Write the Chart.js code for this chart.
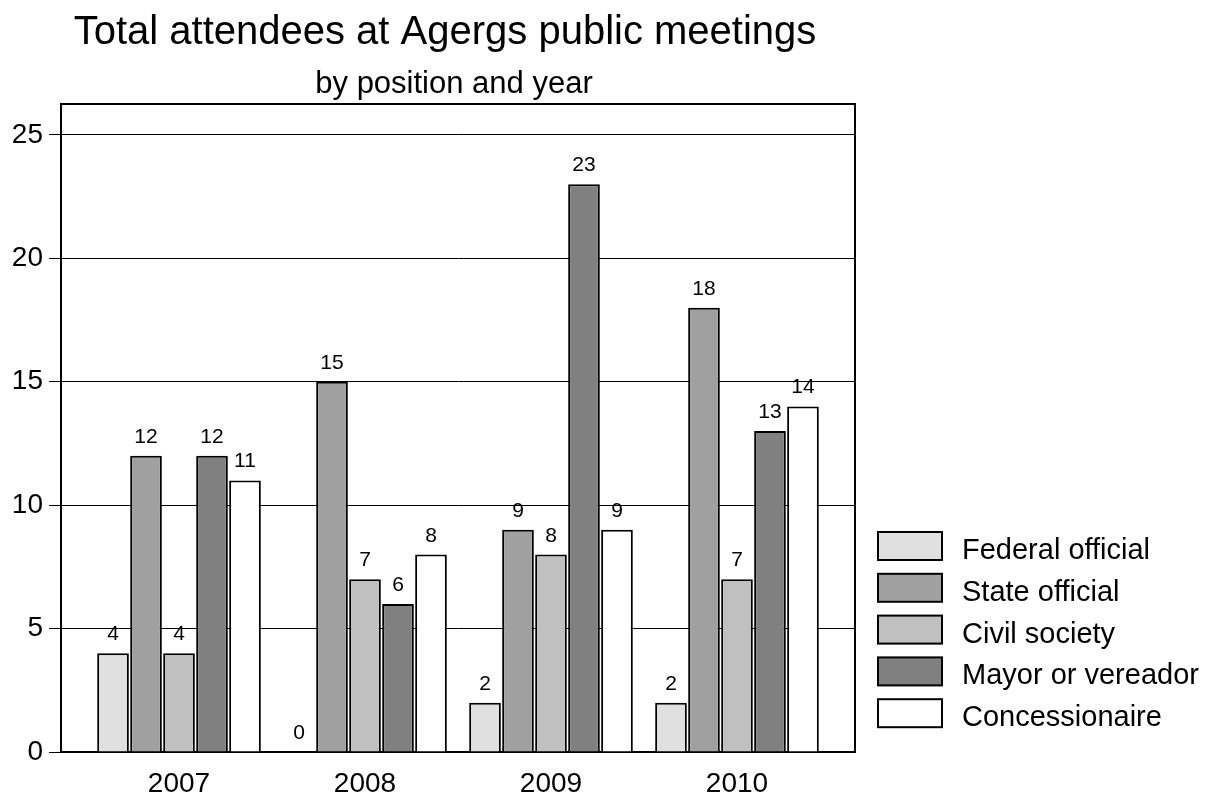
<!DOCTYPE html>
<html>
<head>
<meta charset="utf-8">
<script src="https://cdn.jsdelivr.net/npm/chart.js@4/dist/chart.umd.min.js"></script>
<style>
  html, body { margin: 0; padding: 0; background: #fff; }
  #wrap { width: 1217px; height: 795px; }
</style>
</head>
<body>
<div id="wrap"><canvas id="chart" width="1217" height="795"></canvas></div>
<script>
const years = ['2007', '2008', '2009', '2010'];
const federalOfficial = [4, 0, 2, 2];
const stateOfficial = [12, 15, 9, 18];
const civilSociety = [4, 7, 8, 7];
const mayorOrVereador = [12, 6, 23, 13];
const concessionaire = [11, 8, 9, 14];
const yTicks = [0, 5, 10, 15, 20, 25];

const FONT = "'Liberation Sans', Arial, sans-serif";

// titles, frame, value labels and legend drawn by hand
const extras = {
  id: 'extras',
  afterDraw(chart) {
    const ctx = chart.ctx;
    const a = chart.chartArea;
    ctx.save();
    ctx.fillStyle = '#000';
    ctx.textAlign = 'center';
    ctx.textBaseline = 'alphabetic';
    ctx.font = '40px ' + FONT;
    ctx.fillText('Total attendees at Agergs public meetings', 445, 44);
    ctx.font = '31px ' + FONT;
    ctx.fillText('by position and year', 454, 93);

    // frame top / right
    ctx.strokeStyle = '#000';
    ctx.lineWidth = 2;
    ctx.beginPath();
    ctx.moveTo(a.left, a.top);
    ctx.lineTo(a.right, a.top);
    ctx.lineTo(a.right, a.bottom);
    ctx.stroke();

    // value labels
    ctx.font = '21px ' + FONT;
    chart.data.datasets.forEach((ds, i) => {
      chart.getDatasetMeta(i).data.forEach((bar, j) => {
        ctx.fillText(String(ds.data[j].y), bar.x, bar.y - 13);
      });
    });

    // legend
    ctx.textAlign = 'left';
    ctx.font = '29px ' + FONT;
    ctx.lineWidth = 2;
    chart.data.datasets.forEach((ds, i) => {
      const y = 532 + i * 41.8;
      ctx.fillStyle = ds.backgroundColor;
      ctx.fillRect(878, y, 64, 28);
      ctx.strokeRect(878, y, 64, 28);
      ctx.fillStyle = '#000';
      ctx.fillText(ds.label, 962, y + 27);
    });
    ctx.restore();
  }
};

function bar(label, data, color) {
  return {
    label: label,
    data: data.map((v, i) => ({ x: i, y: v })),
    backgroundColor: color,
    borderColor: '#000',
    borderWidth: 2,
    borderSkipped: 'bottom',
    categoryPercentage: 0.887,
    barPercentage: 0.96
  };
}

new Chart(document.getElementById('chart'), {
  type: 'bar',
  data: {
    datasets: [
      bar('Federal official', federalOfficial, '#e0e0e0'),
      bar('State official', stateOfficial, '#a0a0a0'),
      bar('Civil society', civilSociety, '#c0c0c0'),
      bar('Mayor or vereador', mayorOrVereador, '#808080'),
      bar('Concessionaire', concessionaire, '#ffffff')
    ]
  },
  options: {
    responsive: false,
    animation: false,
    layout: { padding: { top: 104, right: 362, left: 0, bottom: 0 } },
    plugins: {
      legend: { display: false },
      title: { display: false },
      tooltip: { enabled: false }
    },
    scales: {
      y: {
        min: 0,
        max: 26.25,
        afterFit: function (s) { s.width = 61; },
        afterBuildTicks: function (s) {
          s.ticks = yTicks.map(v => ({ value: v }));
        },
        ticks: { color: '#000', font: { family: FONT, size: 28 }, padding: 6 },
        grid: { color: '#000', lineWidth: 1, tickLength: 12, tickColor: '#000' },
        border: { color: '#000', width: 2 }
      },
      x: {
        type: 'linear',
        min: -0.6345,
        max: 3.6345,
        offset: false,
        afterFit: function (s) { s.height = 43; },
        afterBuildTicks: function (s) {
          s.ticks = years.map((y, i) => ({ value: i }));
        },
        ticks: {
          color: '#000',
          font: { family: FONT, size: 28 },
          padding: 15,
          callback: function (v) { return years[v]; }
        },
        grid: { display: false, drawTicks: false },
        border: { color: '#000', width: 2 }
      }
    }
  },
  plugins: [extras]
});
</script>
</body>
</html>
